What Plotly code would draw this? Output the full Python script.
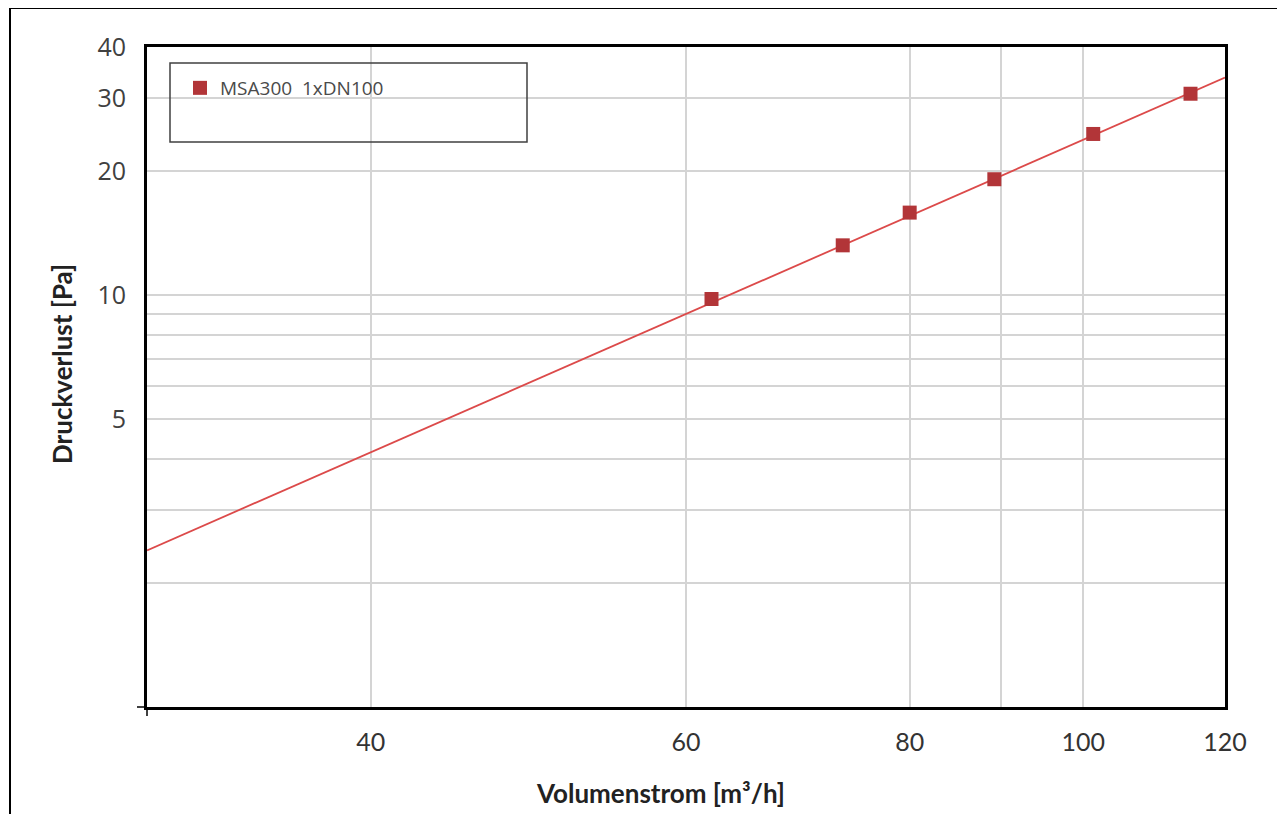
import plotly.graph_objects as go

# Data
flow = [62.0, 73.4, 80.0, 89.2, 101.3, 114.8]          # Volumenstrom [m3/h]
pressure = [9.78, 13.2, 15.85, 19.1, 24.6, 30.8]       # Druckverlust [Pa]
trend_x = [30, 120]
trend_y = [2.40, 33.7]
series_name = "MSA300  1xDN100"

x_tickvals = [30, 40, 60, 80, 90, 100, 120]
x_ticktext = ["", "40", "60", "80", "", "100", "120"]
y_tickvals = [1, 2, 3, 4, 5, 6, 7, 8, 9, 10, 20, 30, 40]
y_ticktext = ["", "", "", "", "5", "", "", "", "", "10", "20", "30", "40"]

W, H = 1285, 814
OFF = 8  # page body margin
# plot area in reference screen pixels: x 147..1225, y 47..707
L, R, T, B = 147 - OFF, W - (1225 - OFF), 47 - OFF, H - (707 - OFF)
pw, ph = W - L - R, H - T - B

def px(xp):
    return (xp - OFF - L) / pw

def py(yp):
    return (H - B - (yp - OFF)) / ph

fig = go.Figure()
fig.add_trace(go.Scatter(x=trend_x, y=trend_y, mode="lines",
                         line=dict(color="#dc4a4a", width=1.8),
                         showlegend=False, hoverinfo="skip"))
fig.add_trace(go.Scatter(x=flow, y=pressure, mode="markers", name=series_name,
                         marker=dict(symbol="square", size=14, color="#b23538",
                                     line=dict(width=0))))

fig.update_layout(
    width=W, height=H,
    margin=dict(l=L, r=R, t=T, b=B),
    paper_bgcolor="white", plot_bgcolor="white",
    showlegend=True,
    legend=dict(x=px(180), y=py(69), xanchor="left", yanchor="top",
                bgcolor="rgba(0,0,0,0)", borderwidth=0,
                font=dict(family="Open Sans", size=19, color="#4a4a4a")),
    xaxis=dict(type="log", range=[1.4771, 2.0792],
               tickvals=x_tickvals, ticktext=x_ticktext,
               showgrid=True, gridcolor="#d4d4d4", gridwidth=1.5,
               showline=True, linecolor="black", linewidth=3, mirror=True,
               ticks="", ticklabelstandoff=11,
               tickfont=dict(family="Lato", size=25, color="#333333"),
               zeroline=False),
    yaxis=dict(type="log", range=[0.0, 1.602],
               tickvals=y_tickvals, ticktext=y_ticktext,
               showgrid=True, gridcolor="#d4d4d4", gridwidth=1.5,
               showline=True, linecolor="black", linewidth=3, mirror=True,
               ticks="", ticklabelstandoff=13,
               tickfont=dict(family="Open Sans", size=25, color="#404040"),
               zeroline=False),
    shapes=[
        # legend box
        dict(type="rect", xref="paper", yref="paper",
             x0=px(170), x1=px(527), y0=py(142), y1=py(63),
             line=dict(color="#404040", width=1.5), fillcolor="rgba(0,0,0,0)"),
        # outer frame (left and top)
        dict(type="line", xref="paper", yref="paper",
             x0=px(10), x1=px(10), y0=py(8), y1=py(822),
             line=dict(color="black", width=2)),
        dict(type="line", xref="paper", yref="paper",
             x0=px(10), x1=px(1293), y0=py(8), y1=py(8),
             line=dict(color="black", width=2)),
        # corner ticks
        dict(type="line", xref="paper", yref="paper",
             x0=px(137), x1=px(147), y0=0, y1=0,
             line=dict(color="black", width=1.5)),
        dict(type="line", xref="paper", yref="paper",
             x0=0, x1=0, y0=py(707), y1=py(716),
             line=dict(color="black", width=1.5)),
    ],
    annotations=[
        dict(text="<b>Druckverlust [Pa]</b>", xref="paper", yref="paper",
             x=px(62), y=py(364), textangle=-90, showarrow=False,
             xanchor="center", yanchor="middle",
             font=dict(family="Lato", size=26, color="#222222")),
        dict(text="<b>Volumenstrom [m³/h]</b>", xref="paper", yref="paper",
             x=px(660), y=py(793), showarrow=False,
             xanchor="center", yanchor="middle",
             font=dict(family="Lato", size=26, color="#222222")),
    ],
)

fig.write_html("out.html")
